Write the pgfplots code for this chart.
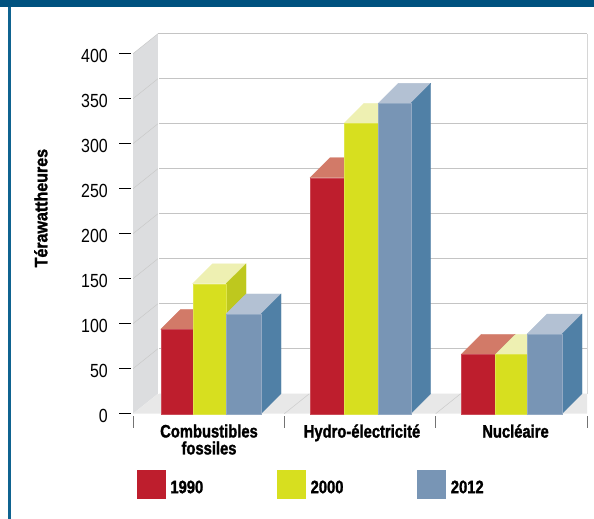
\documentclass[border=0pt]{standalone}
\usepackage{fontspec}
\usepackage{pgfplots}
\pgfplotsset{compat=1.18}
\setmainfont[FakeStretch=0.84]{Liberation Sans}
\newfontfamily\labf[FakeStretch=0.82,FakeBold=1.5]{Liberation Sans Bold}
\newfontfamily\ylabf[FakeStretch=0.89,FakeBold=1.5]{Liberation Sans Bold}
\definecolor{cR}{HTML}{BE1E2D}\definecolor{cRt}{HTML}{D27A68}\definecolor{cRs}{HTML}{9A1825}
\definecolor{cY}{HTML}{D7DF1F}\definecolor{cYt}{HTML}{EEF0B2}\definecolor{cYs}{HTML}{BEC81E}
\definecolor{cB}{HTML}{7895B5}\definecolor{cBt}{HTML}{B3C1D3}\definecolor{cBs}{HTML}{5080A6}
\definecolor{wall}{HTML}{DCDDDF}\definecolor{floorc}{HTML}{E8E8E8}\definecolor{gridc}{HTML}{C4C4C4}
\definecolor{frameT}{HTML}{00527F}\definecolor{frameL}{HTML}{0F6390}
% x0, x1 : position of the front face; #3 value; #4 #5 #6 colours of front, side, top
\newcommand\tdbar[6]{%
  \pgfmathsetmacro\xa{#1+20}\pgfmathsetmacro\xb{#2+20}\pgfmathsetmacro\yb{#3+22.2}%
  \addplot[fill=#6,draw=#6,line width=.3pt,forget plot] coordinates {(#1,#3) (\xa,\yb) (\xb,\yb) (#2,#3)} --cycle;
  \addplot[fill=#5,draw=#5,line width=.3pt,forget plot] coordinates {(#2,0) (\xb,22.2) (\xb,\yb) (#2,#3)} --cycle;
  \addplot[fill=#4,draw=#4!80!white,line width=.4pt,forget plot] coordinates {(#1,0) (#2,0) (#2,#3) (#1,#3)} --cycle;
}
\begin{document}
\begin{tikzpicture}
\useasboundingbox (0,0) rectangle (594pt,519pt);
\fill[white] (0,0) rectangle (594pt,519pt);
\fill[frameL] (8pt,0) rectangle (11pt,519pt);
\fill[frameT] (0,512pt) rectangle (594pt,519pt);
\begin{axis}[
  at={(133pt,105.3pt)},anchor=south west,scale only axis,width=454pt,height=360pt,
  xmin=133,xmax=587,ymin=0,ymax=400,clip=false,axis line style={draw=none},
  no marks,tick align=outside,xtick pos=bottom,ytick pos=left,major tick length=12pt,
  ytick={0,50,...,400},
  xtick={133,284.33,435.67,587},xticklabels={},
  x tick style={draw=gray!90!black,line width=.7pt,yshift=-2pt},
  y tick style={draw=black,line width=.8pt,xshift=-2pt},
  /pgf/number format/assume math mode=true,
  yticklabel style={font=\fontsize{19}{20}\selectfont,inner sep=0pt,anchor=east,yshift=-2.7pt},
  yticklabel shift=13pt,
  extra x ticks={209,362,515.5},
  extra x tick labels={{Combustibles\\fossiles},{Hydro-électricité},{Nucléaire}},
  extra x tick style={major tick length=0pt,tick label style={font=\labf\fontsize{18}{17}\selectfont,align=center,inner sep=0pt,anchor=north,yshift=-10.5pt}},
  ylabel={Térawattheures},
  ylabel style={font=\ylabf\fontsize{18}{18}\selectfont,at={(axis description cs:-0.203,0.571)},anchor=center},
  legend columns=3,
  legend style={draw=none,fill=none,inner sep=0pt,outer sep=0pt,anchor=north west,
    at={(axis description cs:0.0088,-0.1564)},nodes={inner sep=0pt,font=\labf\fontsize{18}{18}\selectfont},
    /tikz/every odd column/.append style={column sep=5pt},
    /tikz/every even column/.append style={column sep=74pt}},
  legend image code/.code={\fill[#1] (0pt,-6.3pt) rectangle (28pt,21.7pt);},
]
% walls and floor
\addplot[fill=wall,draw=none,forget plot] coordinates {(133,0) (158,22.2) (158,422.2) (133,400)} --cycle;
\addplot[fill=floorc,draw=none,forget plot] coordinates {(133,0) (158,22.2) (587,22.2) (587,0)} --cycle;
\foreach \v in {50,100,...,400}{
  \edef\tmp{\noexpand\draw[gridc,line width=.7pt] (axis cs:158,\v+22.2) -- (axis cs:587,\v+22.2);
  \noexpand\draw[gridc!80!wall,line width=.5pt] (axis cs:133,\v) -- (axis cs:158,\v+22.2);}\tmp
}
\draw[gridc!70!white,line width=.7pt] (axis cs:587,22.2) -- (axis cs:587,422.2);
\draw[white,line width=.5pt] (axis cs:158.3,22.2) -- (axis cs:158.3,422.2);
\draw[gridc!80!floorc,line width=.5pt] (axis cs:284.33,0) -- (axis cs:309.33,22.2);
\draw[gridc!80!floorc,line width=.5pt] (axis cs:435.67,0) -- (axis cs:460.67,22.2);
% Combustibles fossiles
\tdbar{160.7}{192.7}{93.8}{cR}{cRs}{cRt}
\tdbar{192.7}{226}{144.4}{cY}{cYs}{cYt}
\tdbar{226}{261}{110.8}{cB}{cBs}{cBt}
% Hydro-electricite
\tdbar{310}{344}{262.2}{cR}{cRs}{cRt}
\tdbar{344}{378.3}{322.7}{cY}{cYs}{cYt}
\tdbar{378.3}{410.7}{344.8}{cB}{cBs}{cBt}
% Nucleaire
\tdbar{461.3}{495.3}{66}{cR}{cRs}{cRt}
\tdbar{495.3}{527}{66}{cY}{cYs}{cYt}
\tdbar{527}{562}{88.5}{cB}{cBs}{cBt}
\addlegendimage{cR}\addlegendentry{\raisebox{8.5pt}{1990}}
\addlegendimage{cY}\addlegendentry{\raisebox{8.5pt}{2000}}
\addlegendimage{cB}\addlegendentry{\raisebox{8.5pt}{2012}}
\end{axis}
\end{tikzpicture}
\end{document}
